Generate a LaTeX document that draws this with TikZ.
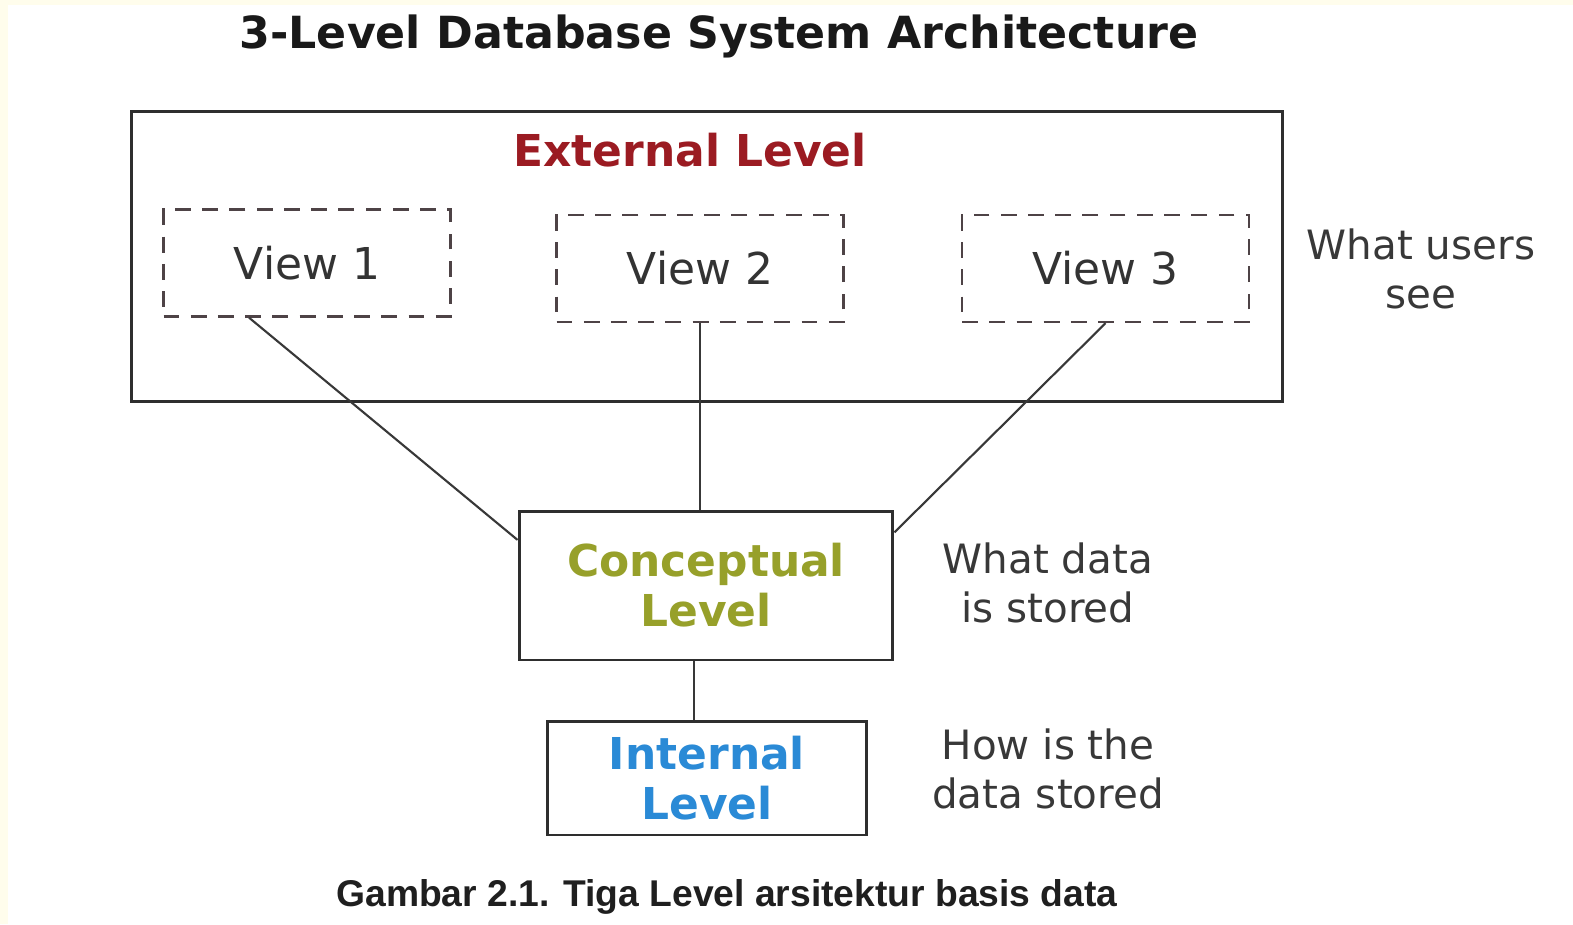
\documentclass[tikz,border=0pt]{standalone}
\usepackage{fontspec}
\setmainfont{DejaVu Sans}
\newfontfamily\capfont{Liberation Sans}
\usetikzlibrary{calc,positioning}
\definecolor{paper}{HTML}{FFFDEC}
\definecolor{extred}{HTML}{9B1B22}
\definecolor{conolive}{HTML}{97A02A}
\definecolor{intblue}{HTML}{2A8AD6}
\definecolor{viewline}{HTML}{4E4346}
\tikzset{
  frame/.style={draw=black!82,line width=1.7pt,inner sep=0pt},
  level/.style={frame,align=center,font=\fontsize{25}{28.4}\selectfont\bfseries},
  view/.style={draw=viewline,line width=1.4pt,dash pattern=on 9pt off 6.5pt,
               minimum width=5.74cm,minimum height=2.14cm,inner sep=0pt,
               text=black!80,font=\fontsize{25}{28}\selectfont},
  note/.style={align=center,font=\fontsize{23}{27.5}\selectfont,text=black!78},
  link/.style={draw=black!78,line width=1.2pt}
}

\begin{document}
\begin{tikzpicture}[x=0.02cm,y=-0.02cm]
  % page
  \fill[paper] (0,0) rectangle (1573,924);
  \fill[white] (8,5) rectangle (1573,924);
  \useasboundingbox (0,0) rectangle (1573,924);

  \node[font=\fontsize{25.2}{28}\selectfont\bfseries,text=black!90] (title) at (719,36)
    {3-Level Database System Architecture};

  % external level with its three views
  \node[frame,minimum width=23.04cm,minimum height=5.82cm] (ext) at (707,256.5) {};
  \node[font=\fontsize{25}{28}\selectfont\bfseries,text=extred] (extlbl) at (690,150)
    {External Level};
  \node[view] (v1) at (307,263) {View 1};
  \node[view] (v2) at (700,268.5) {View 2};
  \node[view] (v3) at (1105.5,268.5) {View 3};

  % conceptual and internal levels
  \node[level,text=conolive,minimum width=7.48cm,minimum height=2.98cm] (con) at (706,585.5)
    {Conceptual\\Level};
  \node[level,text=intblue,minimum width=6.4cm,minimum height=2.28cm] (int) at (707,778)
    {Internal\\Level};

  \draw[link] ($(v1.south west)!0.3!(v1.south east)$) -- ($(con.north west)!0.2!(con.south west)$);
  \draw[link] (v2.south) -- (v2.south |- con.north);
  \draw[link] (v3.south) -- ($(con.north east)!0.15!(con.south east)$);
  \draw[link] ($(con.south west)!0.468!(con.south east)$) coordinate (cs) -- (cs |- int.north);

  % what each level stands for
  \node[note] (seetxt) at (1421,269) {What users\\see};
  \node[note] (dattxt) at (1048,583) {What data\\is stored};
  \node[note] (howtxt) at (1048,769) {How is the\\data stored};

  \node[font=\capfont\fontsize{21.2}{24}\selectfont\bfseries,text=black!88] (caption) at (727,897)
    {Gambar 2.1. Tiga Level arsitektur basis data};
\end{tikzpicture}
\end{document}
